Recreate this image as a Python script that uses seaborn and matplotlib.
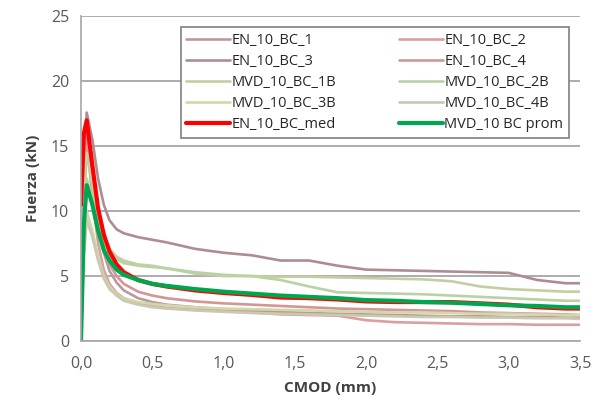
import matplotlib
matplotlib.use("Agg")
import matplotlib.pyplot as plt
import seaborn as sns

# CMOD sampling points (mm)
cmod = [0.0, 0.02, 0.04, 0.08, 0.12, 0.16, 0.2, 0.25, 0.3, 0.4, 0.5, 0.6, 0.8,
        1.0, 1.2, 1.4, 1.6, 1.8, 2.0, 2.2, 2.4, 2.6, 2.8, 3.0, 3.2, 3.4, 3.5]

# Load (kN) for each specimen
en_1 = [0, 12, 16.0, 12.5, 9.0, 6.8, 5.4, 4.5, 3.9, 3.3, 3.0, 2.8, 2.6,
        2.45, 2.35, 2.25, 2.15, 2.1, 2.05, 2.0, 1.95, 1.9, 1.9, 1.85, 1.85, 1.8, 1.8]
en_2 = [0, 10, 15.5, 11.0, 7.5, 5.5, 4.4, 3.7, 3.3, 2.9, 2.7, 2.55, 2.4,
        2.3, 2.2, 2.05, 2.0, 1.95, 1.6, 1.45, 1.4, 1.35, 1.3, 1.3, 1.25, 1.25, 1.25]
en_3 = [0, 13, 17.6, 15.5, 12.5, 10.5, 9.3, 8.6, 8.3, 8.0, 7.8, 7.6, 7.1,
        6.8, 6.6, 6.2, 6.2, 5.8, 5.5, 5.45, 5.4, 5.35, 5.3, 5.25, 4.7, 4.45, 4.45]
en_4 = [0, 11, 16.5, 13.0, 9.5, 7.2, 5.9, 5.0, 4.4, 3.8, 3.5, 3.3, 3.05,
        2.9, 2.8, 2.7, 2.6, 2.5, 2.45, 2.4, 2.35, 2.3, 2.2, 2.15, 2.1, 2.05, 2.0]
mvd_1b = [0, 10, 14.5, 12.0, 9.5, 8.0, 7.1, 6.5, 6.2, 5.9, 5.8, 5.6, 5.2,
          5.0, 5.0, 4.95, 4.95, 4.9, 4.85, 4.8, 4.75, 4.6, 4.2, 4.0, 3.9, 3.8, 3.8]
mvd_2b = [0, 8, 12.5, 11.0, 9.0, 7.6, 6.8, 6.3, 6.0, 5.8, 5.7, 5.6, 5.3,
          5.1, 5.0, 4.7, 4.2, 3.75, 3.7, 3.65, 3.6, 3.5, 3.4, 3.3, 3.2, 3.1, 3.1]
mvd_3b = [0, 7, 10.0, 8.5, 6.5, 5.0, 4.2, 3.6, 3.3, 3.0, 2.85, 2.75, 2.6,
          2.5, 2.45, 2.4, 2.35, 2.3, 2.25, 2.2, 2.2, 2.15, 2.1, 2.1, 2.05, 2.0, 2.0]
mvd_4b = [0, 6.5, 9.3, 8.0, 6.2, 4.8, 4.0, 3.5, 3.1, 2.8, 2.6, 2.5, 2.35,
          2.25, 2.15, 2.1, 2.05, 2.0, 1.95, 1.9, 1.85, 1.85, 1.8, 1.8, 1.75, 1.75, 1.7]
en_med = [10.5, 16.0, 17.0, 13.5, 10.2, 8.2, 6.9, 5.9, 5.3, 4.7, 4.4, 4.2, 3.9,
          3.7, 3.55, 3.35, 3.3, 3.2, 3.05, 3.0, 3.0, 3.0, 2.9, 2.8, 2.6, 2.5, 2.5]
mvd_prom = [0, 9, 12.0, 10.5, 8.5, 7.0, 6.2, 5.5, 5.1, 4.7, 4.4, 4.25, 4.0,
            3.8, 3.65, 3.5, 3.4, 3.3, 3.15, 3.1, 3.0, 2.95, 2.85, 2.75, 2.7, 2.6, 2.6]

series = [
    ("EN_10_BC_1", en_1, "#b99a9c", 1.9),
    ("EN_10_BC_2", en_2, "#d9a09c", 1.9),
    ("EN_10_BC_3", en_3, "#ad8d92", 1.9),
    ("EN_10_BC_4", en_4, "#d49596", 1.9),
    ("MVD_10_BC_1B", mvd_1b, "#c3cfa3", 1.9),
    ("MVD_10_BC_2B", mvd_2b, "#b9d2a3", 1.9),
    ("MVD_10_BC_3B", mvd_3b, "#d3d6a6", 1.9),
    ("MVD_10_BC_4B", mvd_4b, "#c9c9b3", 1.9),
    ("EN_10_BC_med", en_med, "#ff0000", 3.0),
    ("MVD_10 BC prom", mvd_prom, "#00a550", 3.0),
]

sns.set_style("white")
plt.rcParams["font.family"] = ["Open Sans", "DejaVu Sans"]

fig = plt.figure(figsize=(5.96, 4.12), dpi=100)
ax = fig.add_axes([81 / 596, 1 - 341 / 412, 499 / 596, 324.5 / 412])

handles = {}
for name, vals, color, lw in series:
    sns.lineplot(x=cmod, y=vals, color=color, linewidth=lw, ax=ax,
                 label=name, sort=False, estimator=None)
    handles[name] = ax.get_lines()[-1]

ax.set_xlim(0, 3.5)
ax.set_ylim(0, 25)
ax.set_xticks([0, 0.5, 1.0, 1.5, 2.0, 2.5, 3.0, 3.5])
ax.set_xticklabels(["0,0", "0,5", "1,0", "1,5", "2,0", "2,5", "3,0", "3,5"])
ax.set_yticks([0, 5, 10, 15, 20, 25])
ax.yaxis.grid(True, color="#a6a6a6", linewidth=1.3)
ax.xaxis.grid(False)
ax.set_axisbelow(True)

for side in ("top", "right"):
    ax.spines[side].set_visible(False)
for side in ("left", "bottom"):
    ax.spines[side].set_color("#a6a6a6")
    ax.spines[side].set_linewidth(1.2)

ax.tick_params(axis="both", colors="#a6a6a6", labelcolor="#595959",
               labelsize=11.5, direction="out", length=5, width=1.0)
ax.tick_params(axis="x", pad=6)

ax.set_xlabel("CMOD (mm)", fontsize=11, fontweight="bold", color="#404040", labelpad=6)
ax.set_ylabel("Fuerza (kN)", fontsize=11, fontweight="bold", color="#404040", labelpad=8)

order = ["EN_10_BC_1", "EN_10_BC_3", "MVD_10_BC_1B", "MVD_10_BC_3B", "EN_10_BC_med",
         "EN_10_BC_2", "EN_10_BC_4", "MVD_10_BC_2B", "MVD_10_BC_4B", "MVD_10 BC prom"]
leg = ax.legend([handles[n] for n in order], order, ncol=2,
                loc="upper right", bbox_to_anchor=(569 / 596, 1 - 27 / 412),
                bbox_transform=fig.transFigure, fontsize=10.5, frameon=True,
                fancybox=False, framealpha=1, edgecolor="#808080",
                handlelength=3.0, handletextpad=0.1, columnspacing=4.3,
                labelspacing=0.42, borderpad=0.4, borderaxespad=0)
leg.get_frame().set_linewidth(1.2)
for t in leg.get_texts():
    t.set_color("#262626")

fig.savefig("out.png", dpi=100)
